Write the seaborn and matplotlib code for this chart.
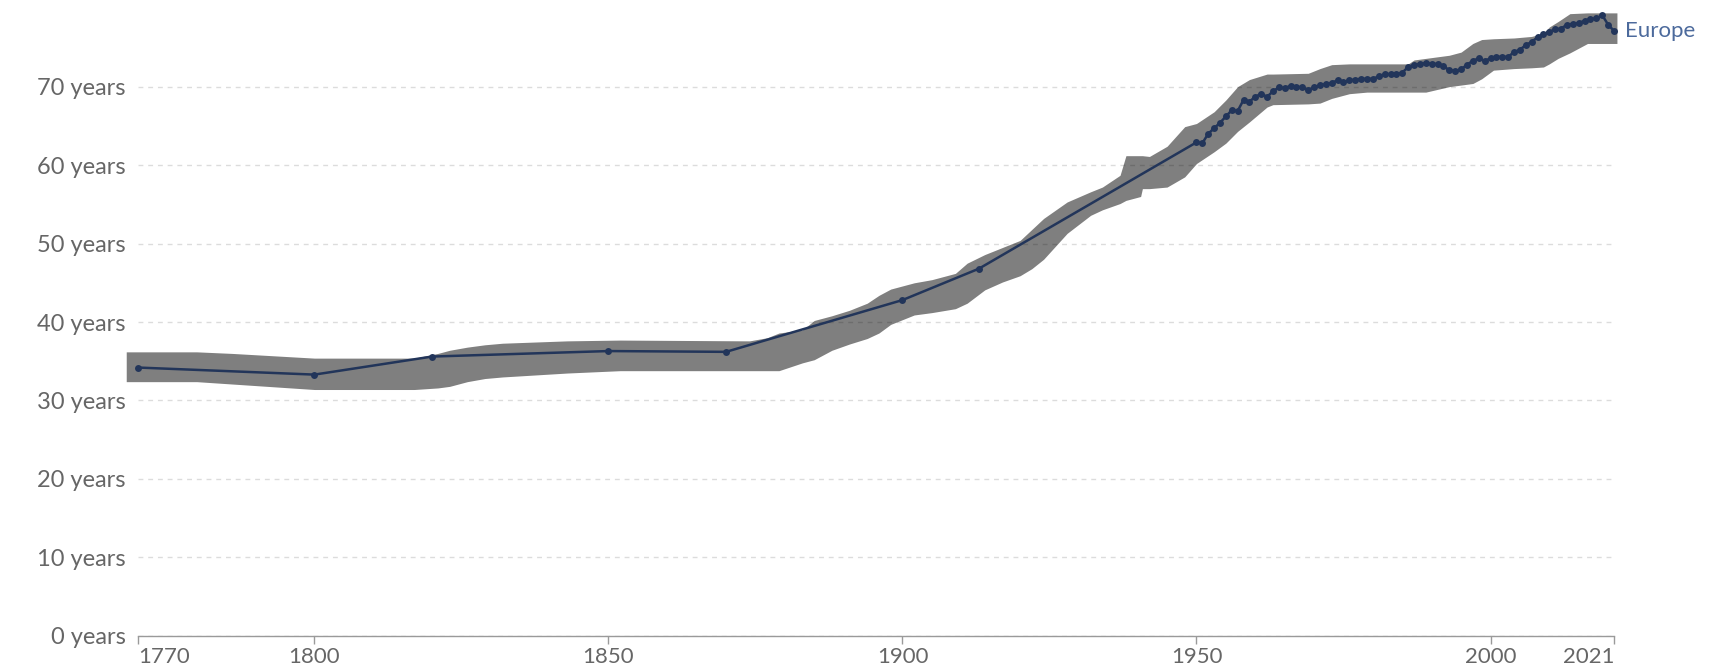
import matplotlib
matplotlib.use("Agg")
import matplotlib.pyplot as plt
import seaborn as sns
import pandas as pd

# Europe life expectancy (years)
years = [1770, 1800, 1820, 1850, 1870, 1900, 1913,
         1950, 1951, 1952, 1953, 1954, 1955, 1956, 1957, 1958, 1959,
         1960, 1961, 1962, 1963, 1964, 1965, 1966, 1967, 1968, 1969,
         1970, 1971, 1972, 1973, 1974, 1975, 1976, 1977, 1978, 1979,
         1980, 1981, 1982, 1983, 1984, 1985, 1986, 1987, 1988, 1989,
         1990, 1991, 1992, 1993, 1994, 1995, 1996, 1997, 1998, 1999,
         2000, 2001, 2002, 2003, 2004, 2005, 2006, 2007, 2008, 2009,
         2010, 2011, 2012, 2013, 2014, 2015, 2016, 2017, 2018, 2019,
         2020, 2021]
life_exp = [34.2, 33.3, 35.6, 36.3, 36.2, 42.8, 46.8,
            62.9, 62.8, 64.0, 64.7, 65.4, 66.2, 67.0, 66.9, 68.3, 68.1,
            68.7, 69.1, 68.7, 69.4, 69.9, 69.8, 70.1, 70.0, 69.9, 69.6,
            69.9, 70.2, 70.3, 70.5, 70.8, 70.6, 70.8, 70.9, 71.0, 71.0,
            71.0, 71.3, 71.6, 71.6, 71.6, 71.8, 72.5, 72.8, 72.9, 73.0,
            72.9, 72.9, 72.6, 72.1, 72.0, 72.2, 72.8, 73.3, 73.6, 73.3,
            73.6, 73.8, 73.8, 73.8, 74.4, 74.7, 75.3, 75.7, 76.3, 76.7,
            77.0, 77.3, 77.4, 77.9, 78.0, 78.1, 78.4, 78.6, 78.7, 79.1,
            77.9, 77.1]

# grey band behind the line, edges
band_years = [1768, 1780, 1786, 1800, 1817, 1821, 1823, 1826, 1829, 1832,
              1843, 1852, 1874, 1877, 1879, 1883, 1885, 1888, 1891, 1894,
              1896, 1898, 1900, 1902, 1905, 1909, 1911, 1914, 1917, 1920,
              1922, 1924, 1928, 1932, 1934, 1937, 1938, 1940.5, 1940.8, 1942,
              1945, 1948, 1950, 1953, 1955, 1957, 1959, 1962, 1963, 1969,
              1971, 1973, 1976, 1979, 1986, 1987, 1989, 1993, 1995, 1997,
              1998.5, 2000.5, 2004, 2007, 2009, 2010, 2011.5, 2013.5, 2016.5, 2021.5]
band_low = [32.4, 32.4, 32.1, 31.4, 31.4, 31.6, 31.8, 32.4, 32.8, 33.0,
            33.5, 33.8, 33.8, 33.8, 33.8, 34.8, 35.2, 36.4, 37.2, 37.9,
            38.6, 39.7, 40.3, 40.9, 41.2, 41.7, 42.4, 44.1, 45.1, 45.9,
            46.8, 48.0, 51.3, 53.6, 54.3, 55.1, 55.5, 56.0, 57.0, 57.0,
            57.2, 58.5, 60.2, 61.7, 62.8, 64.3, 65.5, 67.4, 67.7, 67.8,
            67.9, 68.5, 69.1, 69.3, 69.3, 69.3, 69.3, 70.0, 70.2, 70.4,
            71.0, 72.1, 72.3, 72.4, 72.5, 72.9, 73.6, 74.3, 75.5, 75.5]
band_high = [36.2, 36.2, 36.0, 35.4, 35.4, 36.0, 36.4, 36.8, 37.1, 37.3,
             37.6, 37.7, 37.6, 38.0, 38.6, 39.0, 40.2, 40.8, 41.5, 42.4,
             43.4, 44.2, 44.6, 45.0, 45.4, 46.2, 47.5, 48.6, 49.5, 50.4,
             51.8, 53.2, 55.3, 56.6, 57.2, 58.7, 61.2, 61.2, 61.2, 61.1,
             62.4, 64.9, 65.3, 66.8, 68.3, 70.0, 70.9, 71.6, 71.6, 71.7,
             72.3, 72.8, 72.9, 72.9, 72.9, 73.4, 73.6, 74.0, 74.4, 75.5,
             76.0, 76.1, 76.2, 76.4, 76.8, 77.6, 78.3, 79.3, 79.4, 79.4]

y_ticks = [0, 10, 20, 30, 40, 50, 60, 70]
x_ticks = [1770, 1800, 1850, 1900, 1950, 2000, 2021]

df = pd.DataFrame({"Year": years, "Life expectancy": life_exp})

sns.set_theme(style="white")
plt.rcParams["font.family"] = ["Lato", "DejaVu Sans"]

fig = plt.figure(figsize=(17.19, 6.67), dpi=100)
ax = fig.add_axes([138 / 1719, 31.1 / 667, 1476 / 1719, 635.9 / 667])

ax.fill_between(band_years, band_low, band_high, color="black", alpha=0.5,
                linewidth=0, zorder=1, clip_on=False)

sns.lineplot(data=df, x="Year", y="Life expectancy", ax=ax, color="#22355a",
             linewidth=1.8, marker="o", markersize=5, markeredgewidth=0,
             zorder=3, clip_on=False)

ax.set_xlim(1770, 2021)
ax.set_ylim(0, 81.04)
ax.set_xticks(x_ticks)
ax.set_yticks(y_ticks)
ax.set_yticklabels([f"{v} years" for v in y_ticks])
ax.set_xlabel("")
ax.set_ylabel("")

ax.grid(axis="y", color="#dcdcdc", linewidth=1, linestyle=(0, (3.5, 3.5)))
ax.set_axisbelow(True)
for s in ["top", "right", "left"]:
    ax.spines[s].set_visible(False)
ax.spines["bottom"].set_color("#9a9a9a")
ax.spines["bottom"].set_linewidth(1)

ax.tick_params(axis="y", length=0, pad=9, labelsize=17, labelcolor="#666666")
ax.tick_params(axis="x", length=6, width=1, color="#9a9a9a", pad=2,
               labelsize=16, labelcolor="#666666", direction="out")
ax.xaxis.set_ticks_position("bottom")

labels = ax.get_xticklabels()
labels[0].set_ha("left")
labels[-1].set_ha("right")

ax.annotate("Europe", xy=(years[-1], life_exp[-1]), xytext=(8, 0),
            textcoords="offset points", va="center", ha="left",
            fontsize=16, color="#4c6a9c", annotation_clip=False)

fig.savefig("out.png", dpi=100)
